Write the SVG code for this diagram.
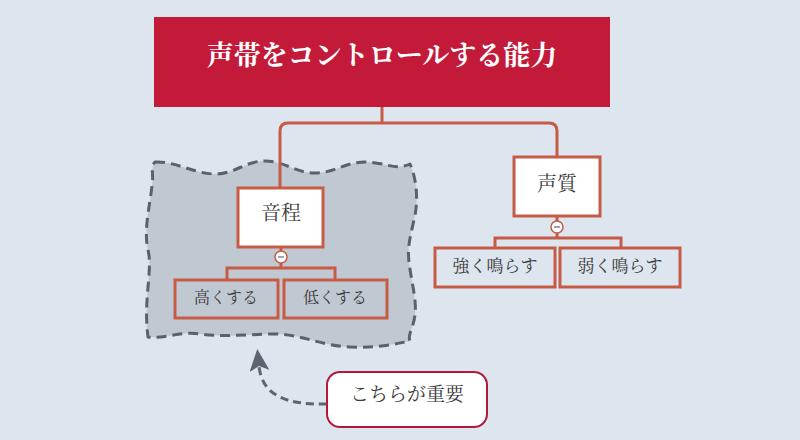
<svg xmlns="http://www.w3.org/2000/svg" width="800" height="440" viewBox="0 0 800 440">
<style>
.jp{font-family:"Noto Serif CJK JP","Noto Sans CJK JP",serif;}
.box{fill:#ffffff;stroke:#c65c46;stroke-width:3;}
.leaf{fill:none;stroke:#c65c46;stroke-width:3;}
.conn{fill:none;stroke:#c65c46;stroke-width:3;}
.t{fill:#3a3a3a;text-anchor:middle;}
.tog{fill:#ffffff;stroke:#c65c46;stroke-width:1.5;}
.togm{stroke:#8a8f96;stroke-width:1.6;}
</style>
<defs>
<marker id="ah" viewBox="0 0 22 20" refX="5" refY="10" markerWidth="22" markerHeight="20" markerUnits="userSpaceOnUse" orient="auto">
<path d="M22,10 L0,0 L5,10 L0,20 Z" fill="#5d6570"/>
</marker>
</defs>
<rect x="0" y="0" width="800" height="440" fill="#dde5ee"/>
<g id="boundary">
<path d="M155,162 C175,161 195,174 215,174 C235,174 245,161 265,161 C285,161 295,173 315,173 C335,173 345,162 365,162 C385,162 395,171 410,164 C417,180 418,200 415,215 C411,235 407,245 409,262 C411,280 417,300 415,315 C413,330 407,335 410,341 C395,344 380,348 350,347 C320,346 300,333 270,334 C240,335 220,337 200,334 C180,331 165,339 148,337 C143,300 153,270 148,250 C143,230 151,200 152,185 C154,175 150,168 155,162 Z" fill="#b9c1cb" fill-opacity="0.8" stroke="#5b616a" stroke-width="3" stroke-dasharray="10 6" stroke-linejoin="round"/>
</g>
<g id="connectors">
<path class="conn" d="M382,107 V123 M280,188 V131 Q280,123 288,123 H549 Q557,123 557,131 V157"/>
<path class="conn" d="M281,247 V268 M227,280 V268 H335 V280"/>
<path class="conn" d="M557,216 V238 M495,248 V238 H621 V248"/>
<path d="M327,404 C285,405 262,395 259,366" fill="none" stroke="#5d6570" stroke-width="3" stroke-dasharray="8 5" marker-end="url(#ah)"/>
</g>
<g id="root">
<rect x="154" y="17" width="456" height="90" fill="#c41a3a"/>
<text class="jp" x="382" y="65" font-size="27" font-weight="bold" fill="#ffffff" text-anchor="middle">声帯をコントロールする能力</text>
</g>
<g id="node-onttei">
<rect class="box" x="238" y="188" width="85" height="59"/>
<text class="jp t" x="281" y="220" font-size="20">音程</text>
<circle class="tog" cx="281" cy="257" r="6"/>
<line class="togm" x1="278" y1="257" x2="284" y2="257"/>
</g>
<g id="node-takaku">
<rect class="leaf" x="175" y="280" width="103" height="38"/>
<text class="jp t" x="226" y="303" font-size="16">高くする</text>
</g>
<g id="node-hikuku">
<rect class="leaf" x="284" y="280" width="103" height="38"/>
<text class="jp t" x="335" y="303" font-size="16">低くする</text>
</g>
<g id="node-seishitsu">
<rect class="box" x="514" y="157" width="86" height="59"/>
<text class="jp t" x="557" y="191" font-size="20">声質</text>
<circle class="tog" cx="557" cy="227" r="6"/>
<line class="togm" x1="554" y1="227" x2="560" y2="227"/>
</g>
<g id="node-tsuyoku">
<rect class="leaf" x="435" y="248" width="120" height="39"/>
<text class="jp t" x="495" y="272" font-size="17">強く鳴らす</text>
</g>
<g id="node-yowaku">
<rect class="leaf" x="560" y="248" width="120" height="39"/>
<text class="jp t" x="620" y="272" font-size="17">弱く鳴らす</text>
</g>
<g id="callout">
<rect x="327" y="372" width="160" height="55" rx="13" fill="#ffffff" stroke="#b3173a" stroke-width="2"/>
<text class="jp t" x="407" y="401" font-size="19">こちらが重要</text>
</g>
</svg>
